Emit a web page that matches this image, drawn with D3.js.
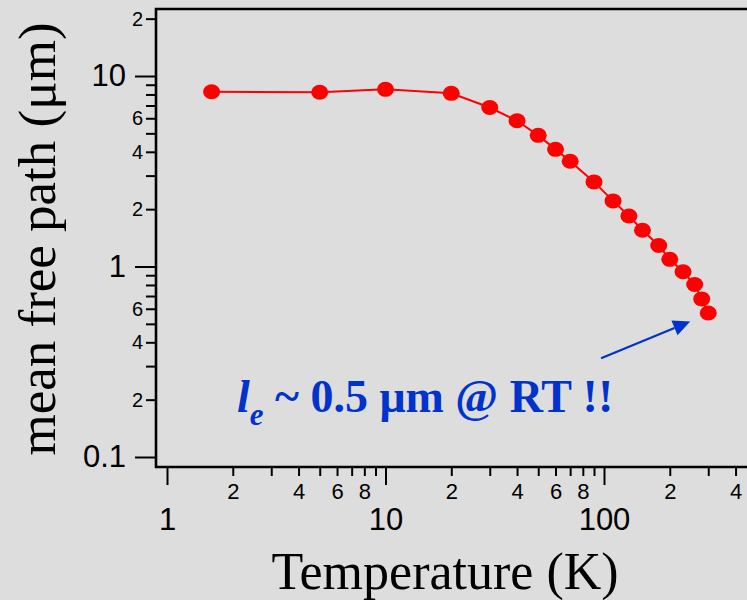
<!DOCTYPE html>
<meta charset="utf-8">

<head>
  <title>mean-free-path</title>
</head>

<style>
  body { margin: 0; background: #dddddd; }
  svg { display: block; }
  .tick text { fill: #000; }
</style>

<body>
  <svg width="747" height="600"></svg>

  <script src="https://cdnjs.cloudflare.com/ajax/libs/d3/7.8.5/d3.min.js"></script>

  <script>
    // measured points (temperature in K, mean free path in um)
    var temps = [1.6, 5, 10, 20, 30, 40, 50, 60, 70, 90, 110, 130, 150, 178, 200, 230, 260, 280, 300];
    var mfp = [8.27, 8.21, 8.51, 8.11, 6.83, 5.82, 4.88, 4.12, 3.57, 2.78, 2.21, 1.84, 1.55, 1.29, 1.09, 0.938, 0.804, 0.676, 0.570];

    var xMajor = [1, 10, 100];
    var xMinor = [2, 3, 4, 5, 6, 7, 8, 9, 20, 30, 40, 50, 60, 70, 80, 90, 200, 300, 400];
    var xMinorLabelled = [2, 4, 6, 8, 20, 40, 60, 80, 200, 400];

    var yMajor = [0.1, 1, 10];
    var yMinor = [0.2, 0.3, 0.4, 0.5, 0.6, 0.7, 0.8, 0.9, 2, 3, 4, 5, 6, 7, 8, 9, 20];
    var yMinorLabelled = [0.2, 0.4, 0.6, 2, 4, 6, 20];

    var svg = d3.select('svg');
    var padL = 156, padT = 9, padB = 467, padR = 747;

    var x = d3.scaleLog().domain([1, 100]).range([167, 604]);
    var y = d3.scaleLog().domain([0.1, 10]).range([457, 76]);

    // frame
    svg.append('path')
      .attr('d', 'M' + padR + ',' + padT + 'H' + padL + 'V' + padB + 'H' + padR)
      .attr('fill', 'none')
      .attr('stroke', '#000')
      .attr('stroke-width', 2.6);

    function leadDigit(d) {
      return String(Math.round(d / Math.pow(10, Math.floor(Math.log10(d) + 1e-9))));
    }

    // x axis
    var gx = svg.append('g').attr('transform', 'translate(0,' + padB + ')');
    gx.append('g')
      .call(d3.axisBottom(x).tickValues(xMinor).tickSize(9).tickPadding(7)
        .tickFormat(function(d) { return xMinorLabelled.indexOf(d) >= 0 ? leadDigit(d) : ''; }))
      .call(function(g) {
        g.select('.domain').remove();
        g.selectAll('line').attr('stroke-width', 2);
        g.selectAll('text').style('font', '22px "Liberation Sans", Arial, sans-serif');
      });
    gx.append('g')
      .call(d3.axisBottom(x).tickValues(xMajor).tickSize(18).tickPadding(0)
        .tickFormat(function(d) { return String(d); }))
      .call(function(g) {
        g.select('.domain').remove();
        g.selectAll('line').attr('stroke-width', 2);
        g.selectAll('text').attr('dy', null).attr('y', 63)
          .style('font', '31px "Liberation Sans", Arial, sans-serif');
      });

    // y axis
    var gy = svg.append('g').attr('transform', 'translate(' + padL + ',0)');
    gy.append('g')
      .call(d3.axisLeft(y).tickValues(yMinor).tickSize(10).tickPadding(3)
        .tickFormat(function(d) { return yMinorLabelled.indexOf(d) >= 0 ? leadDigit(d) : ''; }))
      .call(function(g) {
        g.select('.domain').remove();
        g.selectAll('line').attr('stroke-width', 2);
        g.selectAll('text').style('font', '20px "Liberation Sans", Arial, sans-serif');
      });
    gy.append('g')
      .call(d3.axisLeft(y).tickValues(yMajor).tickSize(21).tickPadding(9)
        .tickFormat(function(d) { return String(d); }))
      .call(function(g) {
        g.select('.domain').remove();
        g.selectAll('line').attr('stroke-width', 2);
        g.selectAll('text').style('font', '31px "Liberation Sans", Arial, sans-serif');
      });

    // axis titles
    svg.append('text')
      .attr('x', 445)
      .attr('y', 589)
      .attr('text-anchor', 'middle')
      .style('font', '52px "Liberation Serif", "Times New Roman", serif')
      .text('Temperature (K)');

    svg.append('text')
      .attr('transform', 'translate(55,239) rotate(-90)')
      .attr('text-anchor', 'middle')
      .style('font', '53px "Liberation Serif", "Times New Roman", serif')
      .text('mean free path (\u03bcm)');

    // data
    var pts = temps.map(function(t, i) { return { t: t, v: mfp[i] }; });

    svg.append('path')
      .datum(pts)
      .attr('fill', 'none')
      .attr('stroke', '#ff0000')
      .attr('stroke-width', 2)
      .attr('d', d3.line()
        .x(function(d) { return x(d.t); })
        .y(function(d) { return y(d.v); }));

    svg.selectAll('ellipse')
      .data(pts)
      .enter()
      .append('ellipse')
      .attr('cx', function(d) { return x(d.t); })
      .attr('cy', function(d) { return y(d.v); })
      .attr('rx', 8.5)
      .attr('ry', 7.5)
      .attr('fill', '#ff0000');

    // annotation
    var blue = '#0033cc';
    var arrowFrom = [97, 0.33], arrowTo = [248, 0.515];
    var x0 = x(arrowFrom[0]), y0 = y(arrowFrom[1]);
    var x1 = x(arrowTo[0]), y1 = y(arrowTo[1]);
    var ang = Math.atan2(y1 - y0, x1 - x0);
    var headLen = 17, headW = 8;
    var bx = x1 - headLen * Math.cos(ang), by = y1 - headLen * Math.sin(ang);

    svg.append('line')
      .attr('x1', x0).attr('y1', y0)
      .attr('x2', bx).attr('y2', by)
      .attr('stroke', blue)
      .attr('stroke-width', 2.2);

    svg.append('path')
      .attr('d', 'M' + x1 + ',' + y1 +
        'L' + (bx + headW * Math.sin(ang)) + ',' + (by - headW * Math.cos(ang)) +
        'L' + (bx - headW * Math.sin(ang)) + ',' + (by + headW * Math.cos(ang)) + 'Z')
      .attr('fill', blue);

    var note = svg.append('text')
      .attr('x', 237)
      .attr('y', 412)
      .attr('fill', blue)
      .style('font', 'bold 46px "Liberation Serif", "Times New Roman", serif');
    note.append('tspan').style('font-style', 'italic').text('l');
    note.append('tspan').style('font-style', 'italic').style('font-size', '31px')
      .attr('dy', 13).text('e');
    note.append('tspan').attr('dy', -13).text(' ~ 0.5 \u03bcm @ RT !!');
  </script>
</body>

</html>
